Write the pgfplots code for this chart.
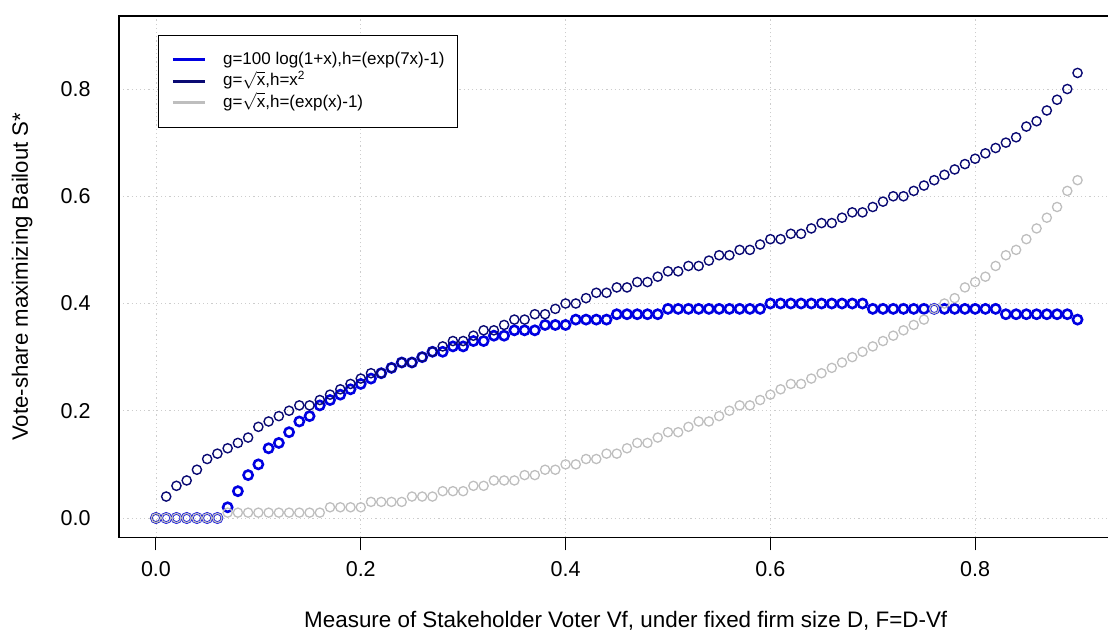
\documentclass[border=0pt]{standalone}
\usepackage{fontspec}
\setmainfont{Liberation Sans}
\usepackage{pgfplots}
\pgfplotsset{compat=1.18}
\usepackage{pgfplotstable}

\definecolor{cblue}{RGB}{0,0,225}
\definecolor{cnavy}{RGB}{10,10,115}
\definecolor{cgray}{RGB}{190,190,190}
\definecolor{cgrid}{RGB}{205,205,205}

% x = Vf, a = g=100log(1+x), b = g=sqrt(x),h=x^2, c = g=sqrt(x),h=exp(x)-1
\pgfplotstableread{
x    a    b    c
0.00 0.00 0.00 0.00
0.01 0.00 0.04 0.00
0.02 0.00 0.06 0.00
0.03 0.00 0.07 0.00
0.04 0.00 0.09 0.00
0.05 0.00 0.11 0.00
0.06 0.00 0.12 0.00
0.07 0.02 0.13 0.01
0.08 0.05 0.14 0.01
0.09 0.08 0.15 0.01
0.10 0.10 0.17 0.01
0.11 0.13 0.18 0.01
0.12 0.14 0.19 0.01
0.13 0.16 0.20 0.01
0.14 0.18 0.21 0.01
0.15 0.19 0.21 0.01
0.16 0.21 0.22 0.01
0.17 0.22 0.23 0.02
0.18 0.23 0.24 0.02
0.19 0.24 0.25 0.02
0.20 0.25 0.26 0.02
0.21 0.26 0.27 0.03
0.22 0.27 0.27 0.03
0.23 0.28 0.28 0.03
0.24 0.29 0.29 0.03
0.25 0.29 0.29 0.04
0.26 0.30 0.30 0.04
0.27 0.31 0.31 0.04
0.28 0.31 0.32 0.05
0.29 0.32 0.33 0.05
0.30 0.32 0.33 0.05
0.31 0.33 0.34 0.06
0.32 0.33 0.35 0.06
0.33 0.34 0.35 0.07
0.34 0.34 0.36 0.07
0.35 0.35 0.37 0.07
0.36 0.35 0.37 0.08
0.37 0.35 0.38 0.08
0.38 0.36 0.38 0.09
0.39 0.36 0.39 0.09
0.40 0.36 0.40 0.10
0.41 0.37 0.40 0.10
0.42 0.37 0.41 0.11
0.43 0.37 0.42 0.11
0.44 0.37 0.42 0.12
0.45 0.38 0.43 0.12
0.46 0.38 0.43 0.13
0.47 0.38 0.44 0.14
0.48 0.38 0.44 0.14
0.49 0.38 0.45 0.15
0.50 0.39 0.46 0.16
0.51 0.39 0.46 0.16
0.52 0.39 0.47 0.17
0.53 0.39 0.47 0.18
0.54 0.39 0.48 0.18
0.55 0.39 0.49 0.19
0.56 0.39 0.49 0.20
0.57 0.39 0.50 0.21
0.58 0.39 0.50 0.21
0.59 0.39 0.51 0.22
0.60 0.40 0.52 0.23
0.61 0.40 0.52 0.24
0.62 0.40 0.53 0.25
0.63 0.40 0.53 0.25
0.64 0.40 0.54 0.26
0.65 0.40 0.55 0.27
0.66 0.40 0.55 0.28
0.67 0.40 0.56 0.29
0.68 0.40 0.57 0.30
0.69 0.40 0.57 0.31
0.70 0.39 0.58 0.32
0.71 0.39 0.59 0.33
0.72 0.39 0.60 0.34
0.73 0.39 0.60 0.35
0.74 0.39 0.61 0.36
0.75 0.39 0.62 0.37
0.76 0.39 0.63 0.39
0.77 0.39 0.64 0.40
0.78 0.39 0.65 0.41
0.79 0.39 0.66 0.43
0.80 0.39 0.67 0.44
0.81 0.39 0.68 0.45
0.82 0.39 0.69 0.47
0.83 0.38 0.70 0.49
0.84 0.38 0.71 0.50
0.85 0.38 0.73 0.52
0.86 0.38 0.74 0.54
0.87 0.38 0.76 0.56
0.88 0.38 0.78 0.58
0.89 0.38 0.80 0.61
0.90 0.37 0.83 0.63
}\ballout

\begin{document}
\begin{tikzpicture}
\path[use as bounding box] (-119.1pt,-99.7pt) rectangle ++(1108pt,637pt);
\begin{axis}[
    at={(0pt,0pt)}, anchor=south west,
    scale only axis, width=995.3pt, height=521.2pt,
    xmin=-0.036, xmax=0.936, ymin=-0.036, ymax=0.936,
    xtick={0,0.2,0.4,0.6,0.8}, ytick={0,0.2,0.4,0.6,0.8},
    xtick pos=bottom, ytick pos=left,
    tick align=outside, major tick length=13pt,
    xtick style={black, line width=1pt},
    ytick style={draw=none},
    grid=major,
    grid style={cgrid, dash pattern=on 1.2pt off 3pt, line width=0.9pt},
    axis line style={line width=1.2pt},
    tick label style={font=\fontsize{21.5}{24}\selectfont},
    /pgf/number format/.cd, fixed, fixed zerofill, precision=1, assume math mode=true,
    /pgfplots/.cd,
    xticklabel style={yshift=-8pt},
    yticklabel style={xshift=-12pt},
    xlabel={Measure of Stakeholder Voter Vf, under fixed firm size D, F=D-Vf},
    ylabel={Vote-share maximizing Bailout S*},
    every axis x label/.style={at={([xshift=9pt,yshift=-84pt]rel axis cs:0.5,0)}, anchor=center, font=\fontsize{22.4}{25}\selectfont},
    every axis y label/.style={at={([xshift=-97pt]rel axis cs:0,0.5)}, rotate=90, anchor=center, font=\fontsize{22.2}{25}\selectfont},
    legend cell align=left,
    legend style={at={(rel axis cs:0.0391,0.9637)}, anchor=north west,
        draw=black, line width=1pt, inner xsep=13pt, inner ysep=16pt,
        font=\fontsize{17}{20}\selectfont, row sep=5pt, column sep=17pt,
        nodes={inner sep=0pt, text height=12.5pt, text depth=4pt}},
]
\addplot[only marks, mark=o, mark size=4.6pt, mark options={cblue, line width=2.6pt},
    legend image code/.code={\draw[cblue, line width=2.6pt] (0pt,0pt) -- (32pt,0pt);}]
    table[x=x, y=a] {\ballout};
\addlegendentry{g=100 log(1+x),h=(exp(7x)-1)}
\addplot[only marks, mark=o, mark size=4.6pt, mark options={cnavy, line width=1.4pt},
    legend image code/.code={\draw[cnavy, line width=2.6pt] (0pt,0pt) -- (32pt,0pt);}]
    table[x=x, y=b] {\ballout};
\addlegendentry{g=$\sqrt{\mbox{x}}$,h=x\textsuperscript{2}}
\addplot[only marks, mark=o, mark size=4.6pt, mark options={cgray, line width=1.3pt},
    legend image code/.code={\draw[cgray, line width=2.6pt] (0pt,0pt) -- (32pt,0pt);}]
    table[x=x, y=c] {\ballout};
\addlegendentry{g=$\sqrt{\mbox{x}}$,h=(exp(x)-1)}
\end{axis}
\end{tikzpicture}
\end{document}
